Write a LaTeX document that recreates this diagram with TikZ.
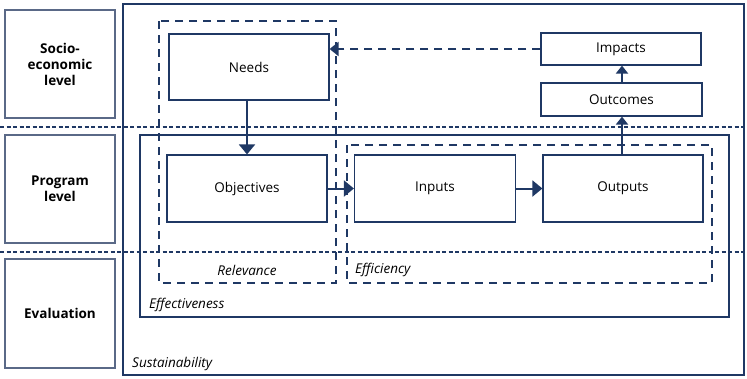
\documentclass[tikz,border=0pt]{standalone}
\usepackage{fontspec}
\setmainfont{Open Sans}
\usetikzlibrary{arrows.meta}
\definecolor{navy}{RGB}{31,56,100}
\definecolor{grayblue}{RGB}{90,105,135}
\begin{document}
\begin{tikzpicture}[x=1pt,y=-1pt,
  lbl/.style={draw=grayblue,line width=1.2pt,font=\fontsize{13.5}{16}\selectfont\bfseries,align=center,inner sep=0},
  box/.style={draw=navy,line width=1.2pt,fill=white,font=\fontsize{13.5}{16}\selectfont,inner sep=0},
  bigdash/.style={draw=navy,line width=2.2pt,dash pattern=on 8pt off 6pt},
  thindash/.style={draw=navy,line width=1.1pt,dash pattern=on 4pt off 2.5pt},
  frame/.style={draw=navy,line width=2pt},
  arr/.style={draw=navy,line width=2pt,-{Triangle[width=16pt,length=10pt]}},
  ital/.style={font=\fontsize{13.5}{16}\selectfont\itshape,text=black,inner sep=0}]
\useasboundingbox (0,0) rectangle (747,378);
% frames
\draw[frame] (123,4) rectangle (744,375);
\draw[frame] (140,135) rectangle (729,317);
% level separators
\draw[thindash] (0,127) -- (747,127);
\draw[thindash] (0,252) -- (747,252);
% level labels
\node[lbl,minimum width=110pt,minimum height=108pt] (socio) at (60,64) {Socio-\\economic\\level};
\node[lbl,minimum width=110pt,minimum height=108pt] (prog) at (60,189) {Program\\level};
\node[lbl,minimum width=110pt,minimum height=109pt] (eval) at (60,313.5) {Evaluation};
% dashed groups
\draw[bigdash] (159,21) rectangle (336,283);
\draw[bigdash] (347,145) rectangle (712,283);
% boxes
\node[box,minimum width=160pt,minimum height=66pt] (needs) at (249,67) {Needs};
\node[box,minimum width=160pt,minimum height=67pt] (obj) at (247,188.5) {Objectives};
\node[box,minimum width=161pt,minimum height=67pt] (inp) at (435,188.5) {Inputs};
\node[box,minimum width=160pt,minimum height=67pt] (outp) at (623,188.5) {Outputs};
\node[box,minimum width=160pt,minimum height=32pt] (imp) at (621,49) {Impacts};
\node[box,minimum width=161pt,minimum height=33pt] (outc) at (621.5,99.5) {Outcomes};
% arrows
\draw[arr] (needs.south -| 247,0) -- (obj.north -| 247,0);
\draw[arr] (obj.east) -- (inp.west);
\draw[arr] (inp.east) -- (outp.west);
\draw[arr,-{Triangle[width=12pt,length=8pt]}] (outp.north -| 622,0) -- (outc.south -| 622,0);
\draw[arr,-{Triangle[width=12pt,length=8pt]}] (outc.north -| 622,0) -- (imp.south -| 622,0);
\draw[navy,line width=2pt,dash pattern=on 8pt off 6pt,-{Triangle[width=14pt,length=9pt]}] (imp.west) -- (needs.east |- imp.west);
% labels
\node[ital] (rel) at (247,270) {Relevance};
\node[ital,anchor=west] (eff) at (355,270) {Efficiency};
\node[ital,anchor=west] (effv) at (149,305) {Effectiveness};
\node[ital,anchor=west] (sus) at (132,364) {Sustainability};
\end{tikzpicture}
\end{document}
